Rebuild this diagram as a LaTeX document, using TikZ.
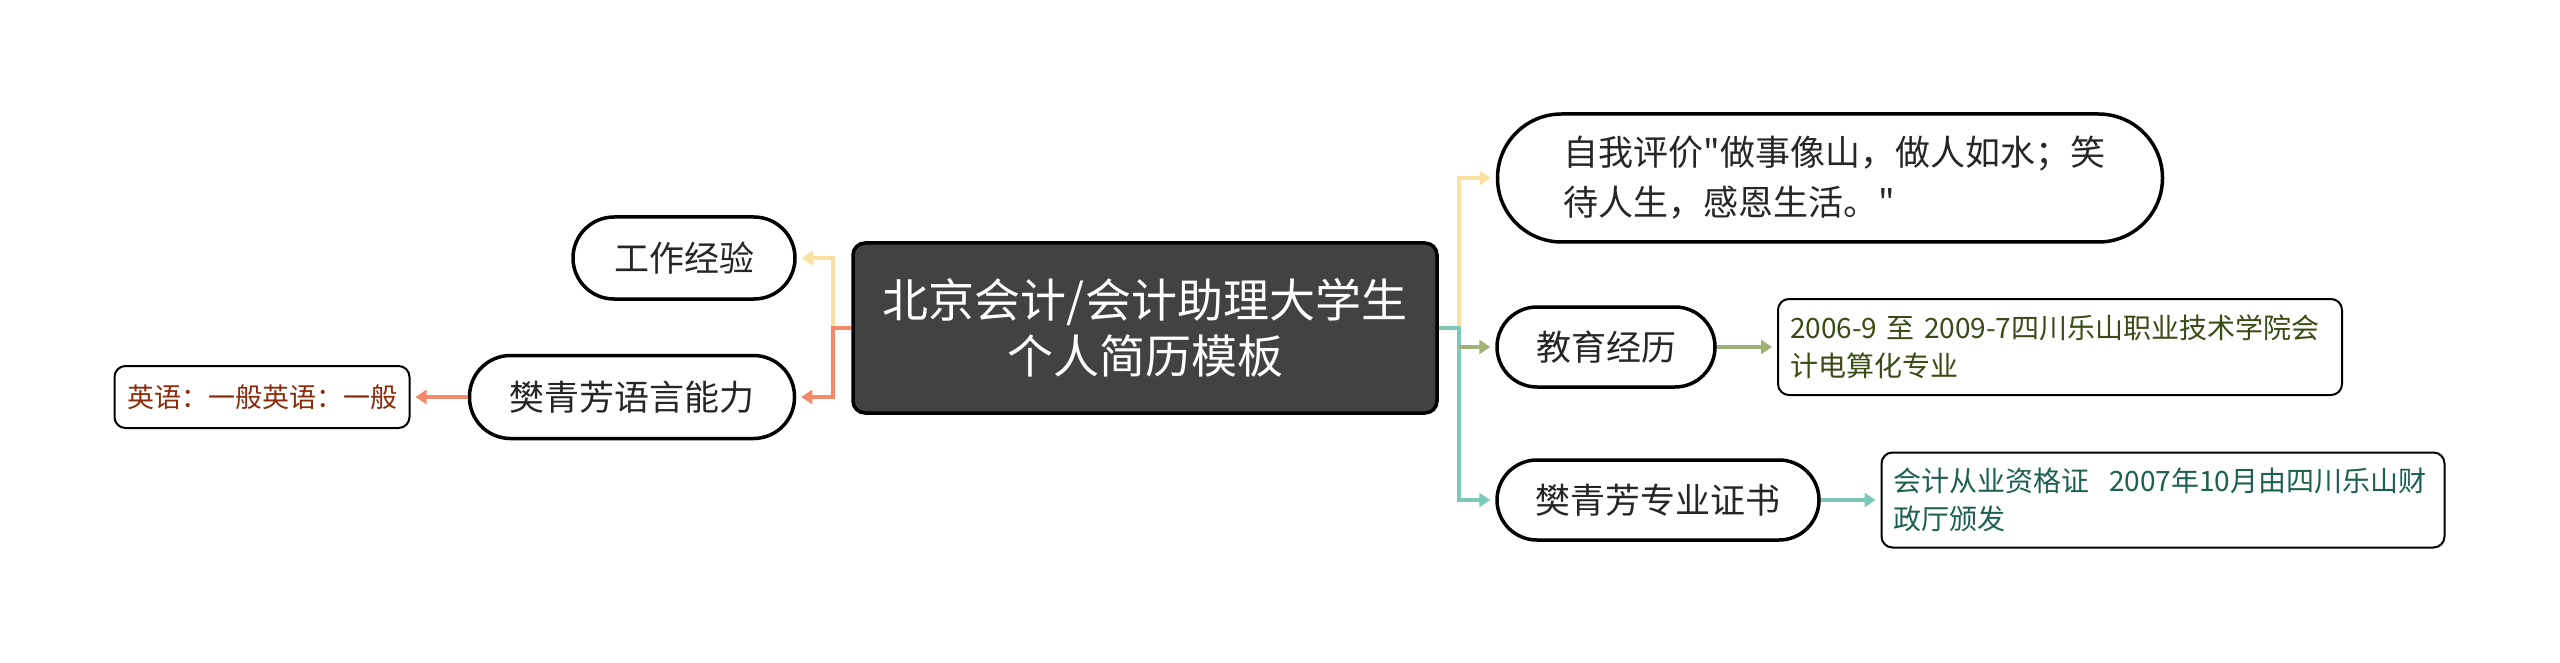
\documentclass[tikz,border=0pt]{standalone}
\usepackage{fontspec}
\setmainfont{Noto Sans CJK SC}[Ligatures=TeXReset]
\usepackage{tikz}
\usetikzlibrary{arrows.meta}

\definecolor{lineyel}{HTML}{FAE0A2}
\definecolor{lineorg}{HTML}{F28A6B}
\definecolor{linetl}{HTML}{7CC9B7}
\definecolor{linegrn}{HTML}{A0B278}
\definecolor{txtgrn}{HTML}{3A4B15}
\definecolor{txttl}{HTML}{1C6050}
\definecolor{txtred}{HTML}{8C2A0A}
\definecolor{boxgray}{HTML}{424242}

\tikzset{
  topic/.style={draw=black, line width=3.5pt, fill=white, inner sep=0pt,
    font=\fontsize{35}{50}\selectfont, text=black!85},
  note/.style={draw=black, line width=2pt, fill=white, rounded corners=11pt,
    inner xsep=12pt, inner ysep=0pt, font=\fontsize{28}{38}\selectfont, align=left},
  branch/.style={line width=3.5pt, -{Triangle[length=11pt,width=14pt]}, shorten >=5pt},
}

\begin{document}
\begin{tikzpicture}[x=1pt, y=-1pt]
\useasboundingbox (0,0) rectangle (2560,663);

\node[draw=black, line width=3.5pt, fill=boxgray, rounded corners=12pt, minimum width=584pt,
  minimum height=170pt, align=center, text=white, font=\fontsize{46}{56}\selectfont]
  (center) at (1145,328) {北京会计/会计助理大学生\\个人简历模板};

% left side
\node[topic, rounded corners=41pt, minimum width=222pt, minimum height=82pt] (work) at (684,258) {工作经验};
\node[topic, rounded corners=41pt, minimum width=325pt, minimum height=83pt] (lang) at (632,397) {樊青芳语言能力};
\node[note, text=txtred, minimum width=295pt, minimum height=62pt, align=center,
  font=\fontsize{27}{36}\selectfont] (langnote) at (262,397) {英语：一般英语：一般};

% right side
\node[topic, rounded corners=64pt, minimum width=665pt, minimum height=128pt, align=left, text width=533pt]
  (self) at (1830,178) {自我评价"做事像山，做人如水；笑\\待人生，感恩生活。"};
\node[topic, rounded corners=40pt, minimum width=218pt, minimum height=80pt] (edu) at (1606,347) {教育经历};
\node[note, text=txtgrn, minimum width=564pt, minimum height=96pt, text width=540pt] (edunote) at (2060,347)
  {\mbox{2006-9 至 2009-7四川乐山职业技术学院会}\\计电算化专业};
\node[topic, rounded corners=40pt, minimum width=322pt, minimum height=80pt] (cert) at (1658,500) {樊青芳专业证书};
\node[note, text=txttl, minimum width=563pt, minimum height=95pt, text width=539pt] (certnote) at (2163,500)
  {\mbox{会计从业资格证\hspace{0.7em}2007年10月由四川乐山财}\\政厅颁发};

\coordinate (lt) at (833,328);
\coordinate (rt) at (1459,328);

\draw[branch, lineyel] (lt) |- (work);
\draw[branch, lineorg] (center.west) -- (lt) |- (lang);
\draw[branch, lineorg] (lang) -- (langnote);

\draw[branch, lineyel] (rt) |- (self);
\draw[branch, linetl] (center.east) -- (rt) |- (cert);
\draw[branch, linegrn] (rt |- edu) -- (edu);
\draw[branch, linegrn] (edu) -- (edunote);
\draw[branch, linetl] (cert) -- (certnote);

\end{tikzpicture}
\end{document}
